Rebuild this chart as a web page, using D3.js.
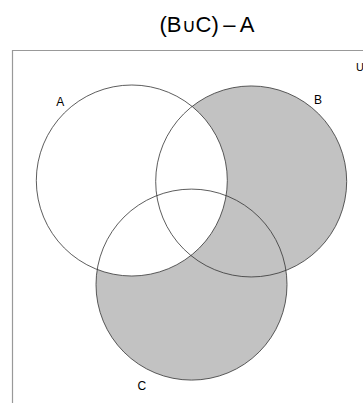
<!DOCTYPE html>
<meta charset="utf-8">
<style>
body { margin: 0; background: #fff; }
text { font-family: "Liberation Sans", Arial, sans-serif; }
.ring { fill: none; stroke: #333; stroke-width: 0.8; }
</style>
<body>
<svg width="363" height="403"></svg>
<script src="https://d3js.org/d3.v7.min.js"></script>
<script>
// sets of the diagram, centres in circle-radius units
var sets = ["A", "B", "C"];
var centreX = [-0.625, 0.625, 0];
var centreY = [0, 0.01, 1.09];
var shaded = ["B", "C"];      // B union C
var removed = ["A"];          // minus A
var title = ["(B", "\u222A", "C)\u2009\u2013\u2009A"];

var svg = d3.select("svg");

// one radius unit = 95.5px
var x = d3.scaleLinear().domain([-1, 1]).range([96, 287]);
var y = d3.scaleLinear().domain([-1, 1]).range([85, 276]);
var r = (x(1) - x(-1)) / 2;

var data = sets.map(function(s, i) { return {name: s, cx: centreX[i], cy: centreY[i]}; });

var t = svg.append("text")
    .attr("x", 207)
    .attr("y", 32)
    .attr("text-anchor", "middle")
    .attr("font-size", 22);
t.selectAll("tspan")
    .data(title)
  .enter().append("tspan")
    .attr("font-size", function(d, i) { return i == 1 ? 19 : 22; })
    .text(function(d) { return d; });

// universe frame (right and bottom edges fall off the picture)
svg.append("path")
    .attr("d", "M12.5,403V50.5H363")
    .attr("fill", "none")
    .attr("stroke", "#999")
    .attr("stroke-width", 1.2);

svg.append("text")
    .attr("x", 356)
    .attr("y", 71)
    .attr("font-size", 11)
    .text("U");

var g = svg.append("g");

// shaded union
g.selectAll("circle.fill")
    .data(data.filter(function(d) { return shaded.indexOf(d.name) >= 0; }))
  .enter().append("circle")
    .attr("cx", function(d) { return x(d.cx); })
    .attr("cy", function(d) { return y(d.cy); })
    .attr("r", r)
    .attr("fill", "#c2c2c2");

// take away A
g.selectAll("circle.cut")
    .data(data.filter(function(d) { return removed.indexOf(d.name) >= 0; }))
  .enter().append("circle")
    .attr("cx", function(d) { return x(d.cx); })
    .attr("cy", function(d) { return y(d.cy); })
    .attr("r", r)
    .attr("fill", "#fff");

g.selectAll("circle.ring")
    .data(data)
  .enter().append("circle")
    .attr("class", "ring")
    .attr("cx", function(d) { return x(d.cx); })
    .attr("cy", function(d) { return y(d.cy); })
    .attr("r", r);

// labels sit just outside each circle
var labelOff = {A: [-0.75, -0.82], B: [0.7, -0.86], C: [-0.52, 1.06]};
g.selectAll("text.lab")
    .data(data)
  .enter().append("text")
    .attr("x", function(d) { return x(d.cx + labelOff[d.name][0]); })
    .attr("y", function(d) { return y(d.cy + labelOff[d.name][1]); })
    .attr("dy", "0.35em")
    .attr("text-anchor", "middle")
    .attr("font-size", 12)
    .text(function(d) { return d.name; });
</script>
</body>
